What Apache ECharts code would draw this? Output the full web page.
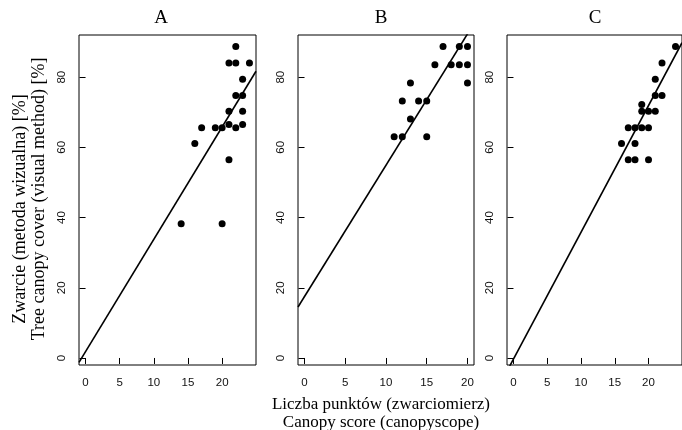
<!DOCTYPE html>
<html><head><meta charset="utf-8">
<script src="https://cdn.jsdelivr.net/npm/echarts@6/dist/echarts.min.js"></script>
<style>html,body{margin:0;padding:0;background:#fff}#c{width:682px;height:430px}</style>
</head><body><div id="c"></div>
<script>
// ---- data ----
const panelNames = ['A', 'B', 'C'];
const xTicks = [0, 5, 10, 15, 20];
const yTicks = [0, 20, 40, 60, 80];

const aX = [22, 21, 22, 24, 23, 22, 23, 21, 23, 17, 19, 20, 22, 21, 23, 16, 21, 14, 20];
const aY = [88.7, 84, 84, 84, 79.4, 74.8, 74.8, 70.3, 70.3, 65.6, 65.6, 65.6, 65.6, 66.5, 66.5, 61.1, 56.5, 38.2, 38.2];

const bX = [17, 19, 20, 16, 18, 19, 20, 13, 20, 12, 14, 15, 13, 11, 12, 15];
const bY = [88.7, 88.7, 88.7, 83.5, 83.5, 83.5, 83.5, 78.3, 78.3, 73.2, 73.2, 73.2, 68.1, 63, 63, 63];

const cX = [24, 22, 21, 21, 22, 19, 19, 20, 21, 17, 18, 19, 20, 16, 18, 17, 18, 20];
const cY = [88.7, 84, 79.4, 74.8, 74.8, 72.2, 70.3, 70.3, 70.3, 65.6, 65.6, 65.6, 65.6, 61.1, 61.1, 56.5, 56.5, 56.5];

// fitted lines: intercept, slope
const lineIntercepts = [1.8, 17.5, -0.3];
const lineSlopes = [3.2, 3.74, 3.61];

// ---- layout ----
const xRanges = [[-0.96, 24.96], [-0.8, 20.8], [-0.96, 24.96]];
const yRange = [-2, 92];
const grids = [
  {left: 79, top: 35, width: 177, height: 330},
  {left: 298, top: 35, width: 176, height: 330},
  {left: 507, top: 35, width: 178, height: 330}
];
const titleX = [161, 381, 595];

const xs = [aX, bX, cX], ys = [aY, bY, cY];
const sans = 'Liberation Sans', serif = 'Liberation Serif';

const option = {
  backgroundColor: '#fff',
  animation: false,
  grid: grids.map(g => Object.assign({show: true, borderColor: '#000', borderWidth: 1, backgroundColor: 'transparent'}, g)),
  xAxis: grids.map((g, i) => ({
    type: 'value', gridIndex: i, min: xRanges[i][0], max: xRanges[i][1],
    axisLine: {show: false}, splitLine: {show: false},
    axisTick: {show: true, customValues: xTicks, length: 6, inside: false, lineStyle: {color: '#000'}},
    axisLabel: {customValues: xTicks, color: '#111', fontFamily: sans, fontSize: 11.5, margin: 12}
  })),
  yAxis: grids.map((g, i) => ({
    type: 'value', gridIndex: i, min: yRange[0], max: yRange[1],
    axisLine: {show: false}, splitLine: {show: false},
    axisTick: {show: true, customValues: yTicks, length: 6, lineStyle: {color: '#000'}},
    axisLabel: {customValues: yTicks, color: '#111', fontFamily: sans, fontSize: 11.5, margin: 11, rotate: 90}
  })),
  series: [],
  graphic: []
};

for (let i = 0; i < 3; i++) {
  option.series.push({
    type: 'scatter', xAxisIndex: i, yAxisIndex: i,
    symbol: 'circle', symbolSize: 7,
    itemStyle: {color: '#000', opacity: 1},
    data: xs[i].map((x, k) => [x, ys[i][k]])
  });
  const x0 = xRanges[i][0], x1 = xRanges[i][1];
  option.series.push({
    type: 'line', xAxisIndex: i, yAxisIndex: i, clip: true,
    symbol: 'none', lineStyle: {color: '#000', width: 1.6},
    data: [[x0, lineIntercepts[i] + lineSlopes[i] * x0], [x1, lineIntercepts[i] + lineSlopes[i] * x1]]
  });
  option.graphic.push({
    type: 'text', x: titleX[i], y: 18,
    style: {text: panelNames[i], font: '19px "' + serif + '"', fill: '#000', textAlign: 'center', textVerticalAlign: 'middle'}
  });
}

option.graphic.push(
  {type: 'text', x: 381, y: 405, style: {text: 'Liczba punktów (zwarciomierz)', font: '17px "' + serif + '"', fill: '#000', textAlign: 'center', textVerticalAlign: 'middle'}},
  {type: 'text', x: 381, y: 423, style: {text: 'Canopy score (canopyscope)', font: '17px "' + serif + '"', fill: '#000', textAlign: 'center', textVerticalAlign: 'middle'}},
  {type: 'text', x: 20, y: 209, rotation: Math.PI / 2, style: {text: 'Zwarcie (metoda wizualna) [%]', font: '18px "' + serif + '"', fill: '#000', textAlign: 'center', textVerticalAlign: 'middle'}},
  {type: 'text', x: 39, y: 199, rotation: Math.PI / 2, style: {text: 'Tree canopy cover (visual method) [%]', font: '18px "' + serif + '"', fill: '#000', textAlign: 'center', textVerticalAlign: 'middle'}}
);

const chart = echarts.init(document.getElementById('c'), null, {renderer: 'canvas'});
chart.setOption(option);
</script>
</body></html>
